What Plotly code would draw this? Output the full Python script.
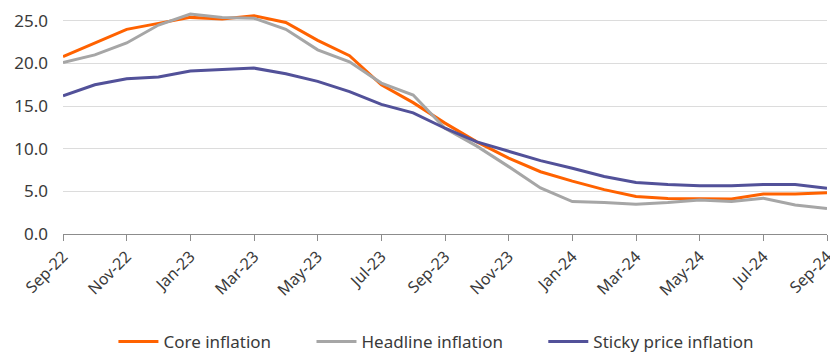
import plotly.graph_objects as go

# Monthly observations, Sep-22 to Sep-24 (% YoY)
months = ["Sep-22", "Oct-22", "Nov-22", "Dec-22", "Jan-23", "Feb-23", "Mar-23",
          "Apr-23", "May-23", "Jun-23", "Jul-23", "Aug-23", "Sep-23", "Oct-23",
          "Nov-23", "Dec-23", "Jan-24", "Feb-24", "Mar-24", "Apr-24", "May-24",
          "Jun-24", "Jul-24", "Aug-24", "Sep-24"]

core_inflation = [20.8, 22.4, 24.0, 24.7, 25.4, 25.2, 25.6, 24.8, 22.7, 20.9,
                  17.5, 15.4, 13.0, 10.8, 8.9, 7.3, 6.2, 5.2, 4.4, 4.15,
                  4.1, 4.1, 4.7, 4.7, 4.85]

headline_inflation = [20.1, 21.0, 22.4, 24.5, 25.8, 25.4, 25.3, 24.0, 21.6, 20.2,
                      17.7, 16.3, 12.4, 10.3, 7.9, 5.4, 3.8, 3.7, 3.5, 3.7,
                      4.0, 3.8, 4.2, 3.4, 3.0]

sticky_price_inflation = [16.2, 17.5, 18.2, 18.4, 19.1, 19.3, 19.45, 18.8, 17.9, 16.7,
                          15.2, 14.2, 12.4, 10.8, 9.7, 8.6, 7.7, 6.75, 6.05, 5.8,
                          5.67, 5.67, 5.8, 5.8, 5.35]

y_ticks = [0, 5, 10, 15, 20, 25]
y_tick_labels = ["0.0", "5.0", "10.0", "15.0", "20.0", "25.0"]

FONT = "Noto Sans"
TEXT = "#3a3a3a"
GAP = "\u00a0" * 8  # extra room after a legend entry

series = [
    ("Core inflation" + GAP, core_inflation, "#FF6200"),
    ("Headline inflation" + GAP, headline_inflation, "#A6A6A6"),
    ("Sticky price inflation", sticky_price_inflation, "#525199"),
]

fig = go.Figure()
for name, values, color in series:
    fig.add_trace(go.Scatter(
        x=months, y=values, name=name, mode="lines",
        line=dict(color=color, width=3),
    ))

fig.update_layout(
    width=830, height=354,
    margin=dict(l=63, r=3, t=8, b=120, autoexpand=False),
    paper_bgcolor="white", plot_bgcolor="white",
    font=dict(family=FONT, color=TEXT),
    showlegend=True,
    legend=dict(
        orientation="h", x=0.066, xanchor="left", y=-0.478, yanchor="middle",
        font=dict(family=FONT, size=17, color=TEXT),
        itemwidth=40, tracegroupgap=0,
    ),
)

fig.update_xaxes(
    type="category",
    range=[0, len(months) - 1],
    tickmode="array",
    tickvals=months[::2],
    ticktext=months[::2],
    tickangle=-45,
    tickfont=dict(family=FONT, size=16, color=TEXT),
    ticks="outside", ticklen=6, tickcolor="#8c8c8c", tickwidth=1,
    showline=True, linecolor="#8c8c8c", linewidth=1,
    showgrid=False, zeroline=False,
    automargin=False,
)

fig.update_yaxes(
    range=[0, 26.5],
    tickmode="array",
    tickvals=y_ticks,
    ticktext=y_tick_labels,
    tickfont=dict(family=FONT, size=17, color=TEXT),
    ticks="", ticklabelstandoff=14,
    showgrid=True, gridcolor="#dcdcdc", gridwidth=1,
    zeroline=False, showline=False,
    automargin=False,
)

fig.write_html("out.html")
